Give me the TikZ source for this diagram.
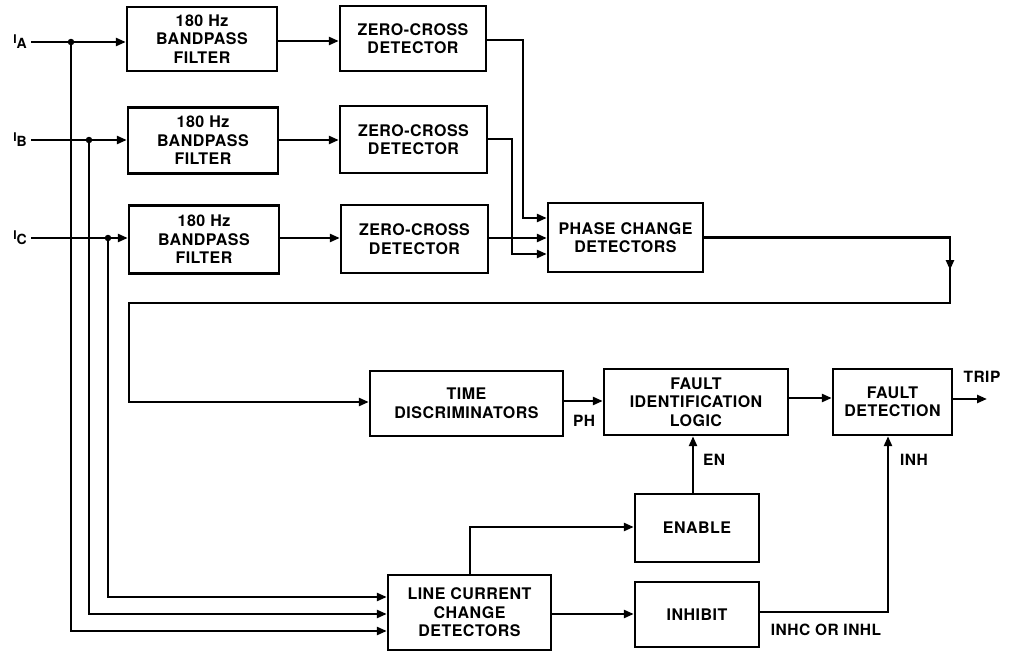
\documentclass[tikz,border=0pt]{standalone}
\usepackage{fontspec}
\setmainfont{TeX Gyre Heros}[LetterSpace=3]
\usetikzlibrary{arrows.meta,calc}
\tikzset{
 blk/.style={draw, line width=2.4pt, align=center, inner sep=0pt, font=\bfseries\fontsize{16}{18.5}\selectfont},
 arr/.style={line width=2.4pt, -{Triangle[length=10pt,width=8pt]}},
 lbl/.style={font=\bfseries\fontsize{15.5}{17}\selectfont, inner sep=0pt},
 jdot/.style={circle, fill, inner sep=0pt, minimum size=6.5pt},
}
\begin{document}
\begin{tikzpicture}[x=1pt,y=-1pt]
\useasboundingbox (0,0) rectangle (1026,651);
% boxes
\node[blk, minimum width=150pt, minimum height=64pt] (bp1) at (202,39) {180 Hz\\BANDPASS\\FILTER};
\node[blk, minimum width=150pt, minimum height=66pt] (bp2) at (203,140.5) {180 Hz\\BANDPASS\\FILTER};
\node[blk, minimum width=150pt, minimum height=68pt] (bp3) at (204,239.5) {180 Hz\\BANDPASS\\FILTER};
\node[blk, minimum width=146pt, minimum height=65pt] (zc1) at (413,38.5) {ZERO-CROSS\\DETECTOR};
\node[blk, minimum width=147pt, minimum height=67pt] (zc2) at (413.5,139.5) {ZERO-CROSS\\DETECTOR};
\node[blk, minimum width=147pt, minimum height=68pt] (zc3) at (414.5,239) {ZERO-CROSS\\DETECTOR};
\node[blk, minimum width=155pt, minimum height=69pt] (pcd) at (625.5,237.5) {PHASE CHANGE\\DETECTORS};
\node[blk, minimum width=193pt, minimum height=65pt] (td) at (466.5,403.5) {TIME\\DISCRIMINATORS};
\node[blk, minimum width=184pt, minimum height=66pt] (fil) at (696,402) {FAULT\\IDENTIFICATION\\LOGIC};
\node[blk, minimum width=119pt, minimum height=66pt] (fd) at (892.5,402) {FAULT\\DETECTION};
\node[blk, minimum width=124pt, minimum height=68pt] (en) at (697,528) {ENABLE};
\node[blk, minimum width=124pt, minimum height=65pt] (inh) at (697,614.5) {INHIBIT};
\node[blk, minimum width=163pt, minimum height=75pt] (lccd) at (469.5,612.5) {LINE CURRENT\\CHANGE\\DETECTORS};
% input labels
\node[lbl, anchor=east] (la) at (27,42) {\fontsize{12}{12}\selectfont I\raisebox{-5pt}{\fontsize{14}{14}\selectfont A}};
\node[lbl, anchor=east] (lb) at (27,140) {\fontsize{12}{12}\selectfont I\raisebox{-5pt}{\fontsize{14}{14}\selectfont B}};
\node[lbl, anchor=east] (lc) at (27,238) {\fontsize{12}{12}\selectfont I\raisebox{-5pt}{\fontsize{14}{14}\selectfont C}};
\coordinate (sa) at (31,42);
\coordinate (sb) at (31,140);
\coordinate (sc) at (31,238);
% junctions
\node[jdot] (ja) at (71,42) {};
\node[jdot] (jb) at (89,140) {};
\node[jdot] (jc) at (108,238) {};
% inputs
\draw[arr] (sa) -- (sa -| bp1.west);
\draw[arr] (sb) -- (sb -| bp2.west);
\draw[arr] (sc) -- (sc -| bp3.west);
\draw[arr] (ja) |- (lccd.west |- 0,631);
\draw[arr] (jb) |- (lccd.west |- 0,614);
\draw[arr] (jc) |- (lccd.west |- 0,597);
% filter -> zero cross
\draw[arr] (bp1.east |- 0,41) -- (zc1.west |- 0,41);
\draw[arr] (bp2.east |- 0,140) -- (zc2.west |- 0,140);
\draw[arr] (bp3.east |- 0,238) -- (zc3.west |- 0,238);
% zero cross -> phase change
\draw[arr] (zc1.east |- 0,40) -- (523,40) |- (pcd.west |- 0,218);
\draw[arr] (zc2.east |- 0,139) -- (512,139) |- (pcd.west |- 0,254);
\draw[arr] (zc3.east |- 0,238) -- (pcd.west |- 0,238);
% phase change -> time discriminators
\coordinate (c1) at (950,237.5);
\draw[arr] (pcd.east |- c1) -- (c1) -- (c1 |- 0,303) -- (129,303) -- (129,402) -- (td.west |- 0,402);
\draw[arr] (c1) -- (950,270);
% main chain
\draw[arr] (td.east |- 0,401) -- (fil.west |- 0,401);
\node[lbl] (ph) at (584,421) {PH};
\draw[arr] (fil.east |- 0,398) -- (fd.west |- 0,398);
\coordinate (trip) at (987,399);
\draw[arr] (fd.east |- trip) -- (trip);
\node[lbl] (tl) at (982,377) {TRIP};
% enable
\draw[arr] (en.north -| 693,0) -- (fil.south -| 693,0);
\node[lbl] (enl) at (714,460) {EN};
\draw[arr] (lccd.north -| 470,0) |- (en.west |- 0,527);
% inhibit
\draw[arr] (lccd.east |- 0,614) -- (inh.west |- 0,614);
\draw[arr] (inh.east |- 0,612) -| (fd.south -| 888,0);
\node[lbl] (inhl) at (914,460) {INH};
\node[lbl] (orl) at (826,630) {INHC OR INHL};
\end{tikzpicture}
\end{document}
